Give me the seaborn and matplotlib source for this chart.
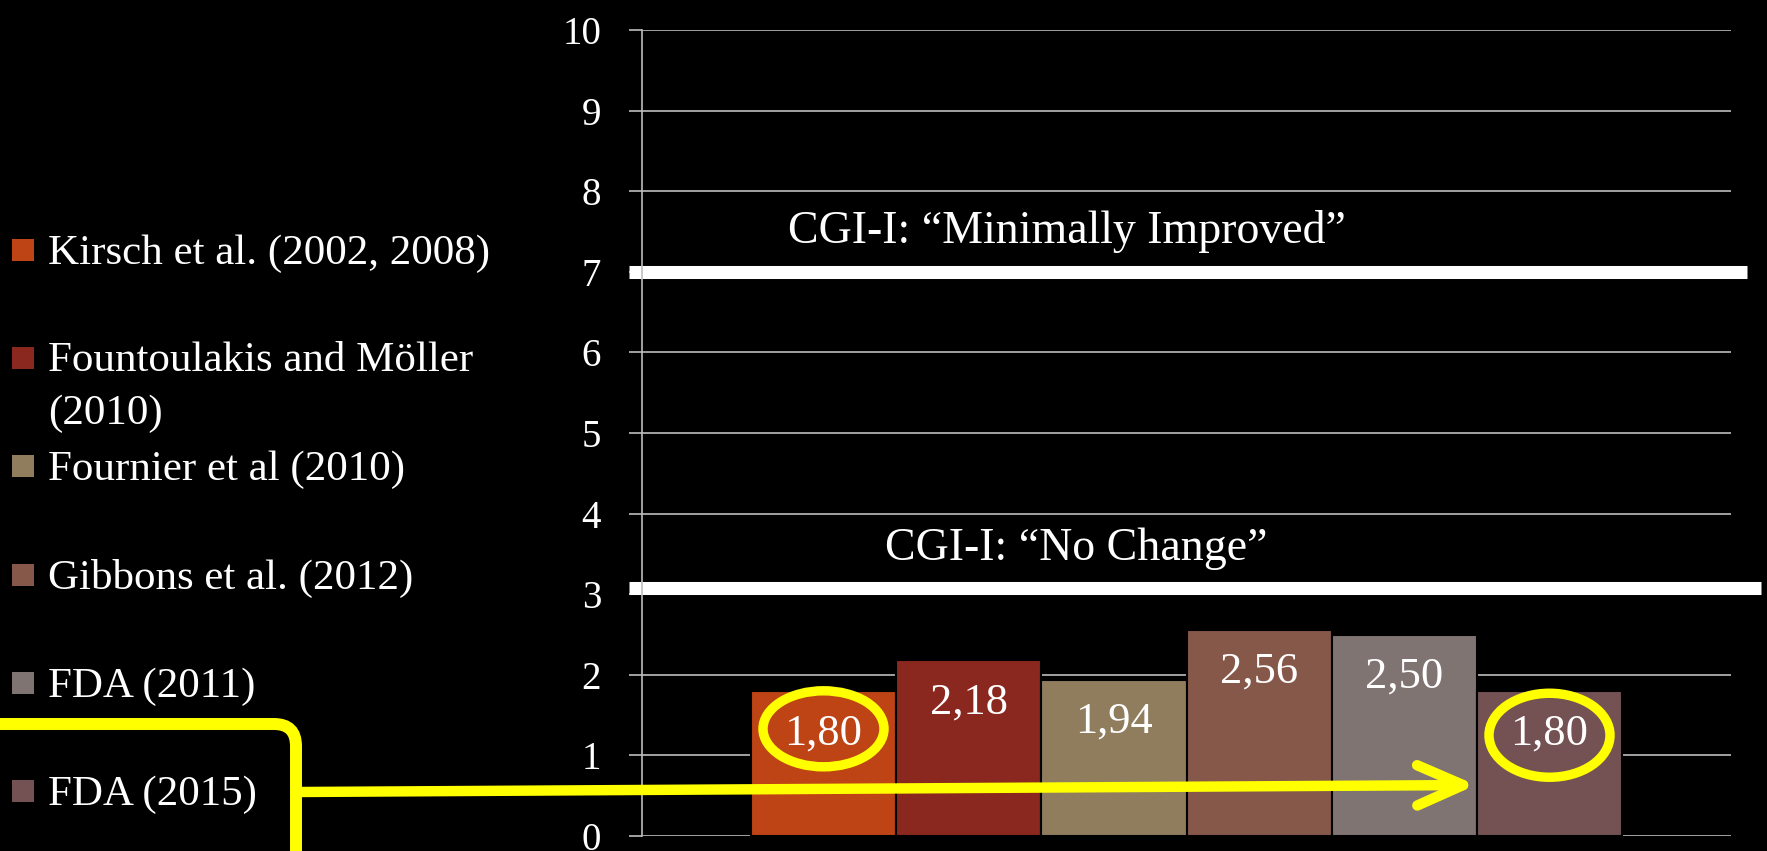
import pandas as pd
import matplotlib
matplotlib.use('Agg')
import matplotlib.pyplot as plt
from matplotlib.patches import Rectangle, Ellipse, FancyBboxPatch, FancyArrowPatch, ArrowStyle
from matplotlib.transforms import Affine2D, IdentityTransform
import seaborn as sns

# --- Data ---
STUDIES = [
    'Kirsch et al. (2002, 2008)',
    'Fountoulakis and Möller\n(2010)',
    'Fournier et al (2010)',
    'Gibbons et al. (2012)',
    'FDA (2011)',
    'FDA (2015)',
]
VALUES = [1.80, 2.18, 1.94, 2.56, 2.50, 1.80]
COLORS = ['#BE4315', '#8A271F', '#8F7D5E', '#85584A', '#807473', '#745152']

# CGI-I reference levels
CGI_LEVELS = [7.0, 3.08]
CGI_LABELS = ['CGI-I: \u201cMinimally Improved\u201d', 'CGI-I: \u201cNo Change\u201d']

Y_TICKS = list(range(0, 11))
HIGHLIGHT = [0, 5]  # bars circled in yellow

# --- Figure setup ---
W, H = 1767, 851
sns.set_style('dark', {'axes.facecolor': 'black', 'figure.facecolor': 'black'})
plt.rcParams['font.family'] = ['Liberation Serif', 'DejaVu Serif']
plt.rcParams['text.color'] = 'white'

fig = plt.figure(figsize=(W / 100, H / 100), dpi=100, facecolor='black')
ax = fig.add_axes([642 / W, 15 / H, 1089 / W, 806 / H])
ax.set_facecolor('black')

# pixel coords with origin at top-left
PX = Affine2D().scale(1 / W, -1 / H).translate(0, 1) + fig.transFigure

df = pd.DataFrame({'group': ['all'] * len(STUDIES), 'study': STUDIES, 'value': VALUES})
sns.barplot(data=df, x='group', y='value', hue='study', hue_order=STUDIES,
            palette=COLORS, saturation=1, width=0.8, errorbar=None,
            edgecolor='black', linewidth=1.5, legend=False, ax=ax)

ax.set_xlim(-0.5, 0.5)
ax.set_ylim(0, 10)
ax.set_yticks(Y_TICKS)
ax.set_yticklabels([str(t) for t in Y_TICKS])
ax.set_xticks([])
ax.set_xlabel('')
ax.set_ylabel('')
ax.set_axisbelow(True)
ax.yaxis.grid(True, color='#bdbdbd', linewidth=1.2)
ax.xaxis.grid(False)
ax.tick_params(axis='y', colors='#bdbdbd', length=9.4, width=1.2, pad=20,
               labelcolor='white', labelsize=28, left=True)
for side in ['top', 'right', 'bottom']:
    ax.spines[side].set_visible(False)
ax.spines['left'].set_color('#bdbdbd')
ax.spines['left'].set_linewidth(1.2)

# value labels inside the bars
for container, val in zip(ax.containers, VALUES):
    bar = container[0]
    xc = bar.get_x() + bar.get_width() / 2
    ax.text(xc, bar.get_height() - 0.66, f'{val:.2f}'.replace('.', ','),
            ha='center', va='baseline', color='white', fontsize=32)

# CGI-I thresholds
ax.axhline(CGI_LEVELS[0], xmin=-0.012, xmax=1.015, color='white', lw=9.4,
           clip_on=False, solid_capstyle='butt')
ax.axhline(CGI_LEVELS[1], xmin=-0.012, xmax=1.028, color='white', lw=9.4,
           clip_on=False, solid_capstyle='butt')
tr = ax.get_yaxis_transform()
ax.text(0.390, CGI_LEVELS[0] + 0.36, CGI_LABELS[0], transform=tr,
        ha='center', va='baseline', fontsize=33, color='white')
ax.text(0.399, CGI_LEVELS[1] + 0.34, CGI_LABELS[1], transform=tr,
        ha='center', va='baseline', fontsize=33, color='white')

# --- Legend (left column) ---
LINE_GAP = 52  # px between wrapped lines
for i, (label, color) in enumerate(zip(STUDIES, COLORS)):
    yc = 250 + i * 108.2
    fig.add_artist(Rectangle((12, yc - 11), 22, 22, transform=PX,
                             facecolor=color, edgecolor='none'))
    # baseline alignment snaps to the last line of a wrapped label
    extra = label.count('\n') * LINE_GAP
    fig.text(48, yc + 14 + extra, label, transform=PX, ha='left', va='baseline',
             fontsize=31, color='white', linespacing=1.5)

# --- Yellow highlights ---
ELLIPSE_SIZE = {0: (121, 76), 5: (121, 84)}
ELLIPSE_DROP = {0: 0.47, 5: 0.55}
for idx in HIGHLIGHT:
    bar = ax.containers[idx][0]
    xc = bar.get_x() + bar.get_width() / 2
    cx, cy = ax.transData.transform((xc, bar.get_height() - ELLIPSE_DROP[idx]))
    w, h = ELLIPSE_SIZE[idx]
    fig.add_artist(Ellipse((cx, cy), w, h, transform=IdentityTransform(),
                           fill=False, edgecolor='#FFFF00', lw=6.8))

fig.add_artist(FancyBboxPatch((-60, 724), 356, 220, transform=PX,
                              boxstyle='round,pad=0,rounding_size=22',
                              fill=False, edgecolor='#FFFF00', lw=8.6))
fig.add_artist(FancyArrowPatch((300, 792), (1476, 785), transform=PX,
                               arrowstyle=ArrowStyle('->', head_length=33, head_width=14.5),
                               mutation_scale=1, shrinkA=0, shrinkB=0,
                               color='#FFFF00', lw=7.5, capstyle='round'))

fig.savefig('out.png', dpi=100, facecolor='black')
